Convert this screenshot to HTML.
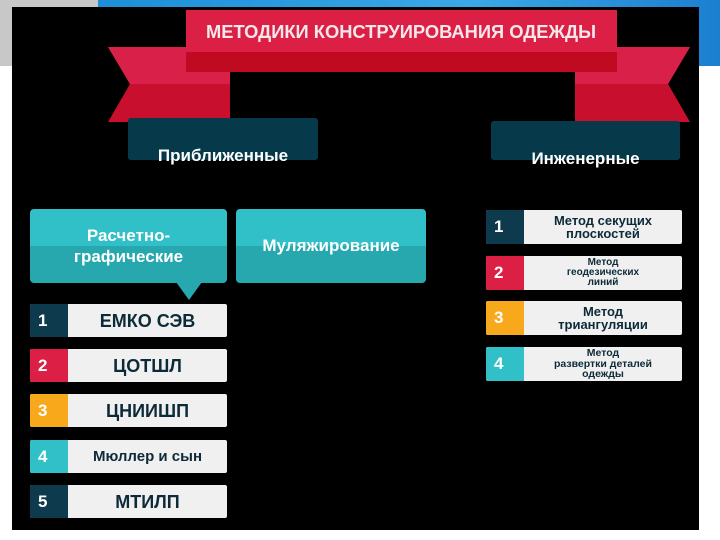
<!DOCTYPE html>
<html><head><meta charset="utf-8"><style>
body{margin:0;width:720px;height:540px;background:#fff;position:relative;overflow:hidden;font-family:"Liberation Sans","DejaVu Sans",sans-serif;font-weight:bold}
.a{position:absolute}
.it{position:absolute;background:#f0f0f0;border-radius:2px;overflow:hidden}
.it .n{position:absolute;left:0;top:0;bottom:0;width:38px;color:#fff;font-size:17px;display:flex;align-items:center;padding-left:8px;box-sizing:border-box}
.it .t{position:absolute;left:40px;right:2px;top:0;bottom:0;display:flex;align-items:center;justify-content:center;text-align:center;color:#0d2a38;line-height:1}
.tb{position:absolute;background:#2db8c0;border-radius:4px;color:#fff;display:flex;align-items:center;justify-content:center;text-align:center;font-size:17px}
</style></head><body>
<div class="a" style="left:0;top:0;width:98px;height:66px;background:#c8c8c8"></div>
<div class="a" style="left:98px;top:0;width:622px;height:66px;background:linear-gradient(90deg,#1c8fd8,#3aa8e8 60%,#1b7fd0)"></div>
<div class="a" style="left:12px;top:7px;width:687px;height:523px;background:#000"></div>
<svg class="a" style="left:0;top:0" width="720" height="130">
<polygon points="108,47 230,47 230,122 108,122 130,84" fill="#c8102e"/>
<polygon points="108,47 230,47 230,84 130,84" fill="#d82048"/>
<polygon points="690,47 575,47 575,122 690,122 668,84" fill="#c8102e"/>
<polygon points="690,47 575,47 575,84 668,84" fill="#d82048"/>
<rect x="186" y="10" width="431" height="62" fill="#c00a22"/>
<rect x="186" y="10" width="431" height="42" fill="#dc1f44"/>
<text x="401" y="38" text-anchor="middle" fill="#f4e8ea" font-size="18" font-weight="bold" font-family="Liberation Sans Narrow,Liberation Sans,sans-serif" textLength="390" lengthAdjust="spacingAndGlyphs">МЕТОДИКИ КОНСТРУИРОВАНИЯ ОДЕЖДЫ</text>
</svg>
<div class="a" style="left:128px;top:118px;width:190px;height:42px;background:#063a4a;border-radius:3px"></div>
<div class="a" style="left:128px;top:146px;width:190px;text-align:center;color:#fff;font-size:17px">Приближенные</div>
<div class="a" style="left:491px;top:121px;width:189px;height:39px;background:#063a4a;border-radius:3px"></div>
<div class="a" style="left:491px;top:149px;width:189px;text-align:center;color:#fff;font-size:17px">Инженерные</div>
<div class="tb" style="left:30px;top:209px;width:197px;height:74px;background:linear-gradient(#31bfc8 50%,#27a8ae 50%);line-height:1.25">Расчетно-<br>графические</div>
<svg class="a" style="left:176px;top:282px" width="30" height="20"><polygon points="0,0 26,0 13,18" fill="#27a8ae"/></svg>
<div class="tb" style="left:236px;top:209px;width:190px;height:74px;background:linear-gradient(#31bfc8 50%,#27a8ae 50%)">Муляжирование</div>

<div class="it" style="left:30px;top:304px;width:197px;height:33px"><div class="n" style="background:#0d3a4c">1</div><div class="t" style="font-size:18px">ЕМКО СЭВ</div></div>
<div class="it" style="left:30px;top:349px;width:197px;height:33px"><div class="n" style="background:#dc1f44">2</div><div class="t" style="font-size:18px">ЦОТШЛ</div></div>
<div class="it" style="left:30px;top:394px;width:197px;height:33px"><div class="n" style="background:#f7a81b">3</div><div class="t" style="font-size:18px">ЦНИИШП</div></div>
<div class="it" style="left:30px;top:440px;width:197px;height:33px"><div class="n" style="background:#31bfc8">4</div><div class="t" style="font-size:15px">Мюллер и сын</div></div>
<div class="it" style="left:30px;top:485px;width:197px;height:33px"><div class="n" style="background:#0d3a4c">5</div><div class="t" style="font-size:18px">МТИЛП</div></div>

<div class="it" style="left:486px;top:210px;width:196px;height:34px"><div class="n" style="background:#0d3a4c">1</div><div class="t" style="font-size:13px">Метод секущих<br>плоскостей</div></div>
<div class="it" style="left:486px;top:256px;width:196px;height:34px"><div class="n" style="background:#dc1f44">2</div><div class="t" style="font-size:10px">Метод<br>геодезических<br>линий</div></div>
<div class="it" style="left:486px;top:301px;width:196px;height:34px"><div class="n" style="background:#f7a81b">3</div><div class="t" style="font-size:13px">Метод<br>триангуляции</div></div>
<div class="it" style="left:486px;top:347px;width:196px;height:34px"><div class="n" style="background:#31bfc8">4</div><div class="t" style="font-size:10.5px">Метод<br>развертки деталей<br>одежды</div></div>
</body></html>
